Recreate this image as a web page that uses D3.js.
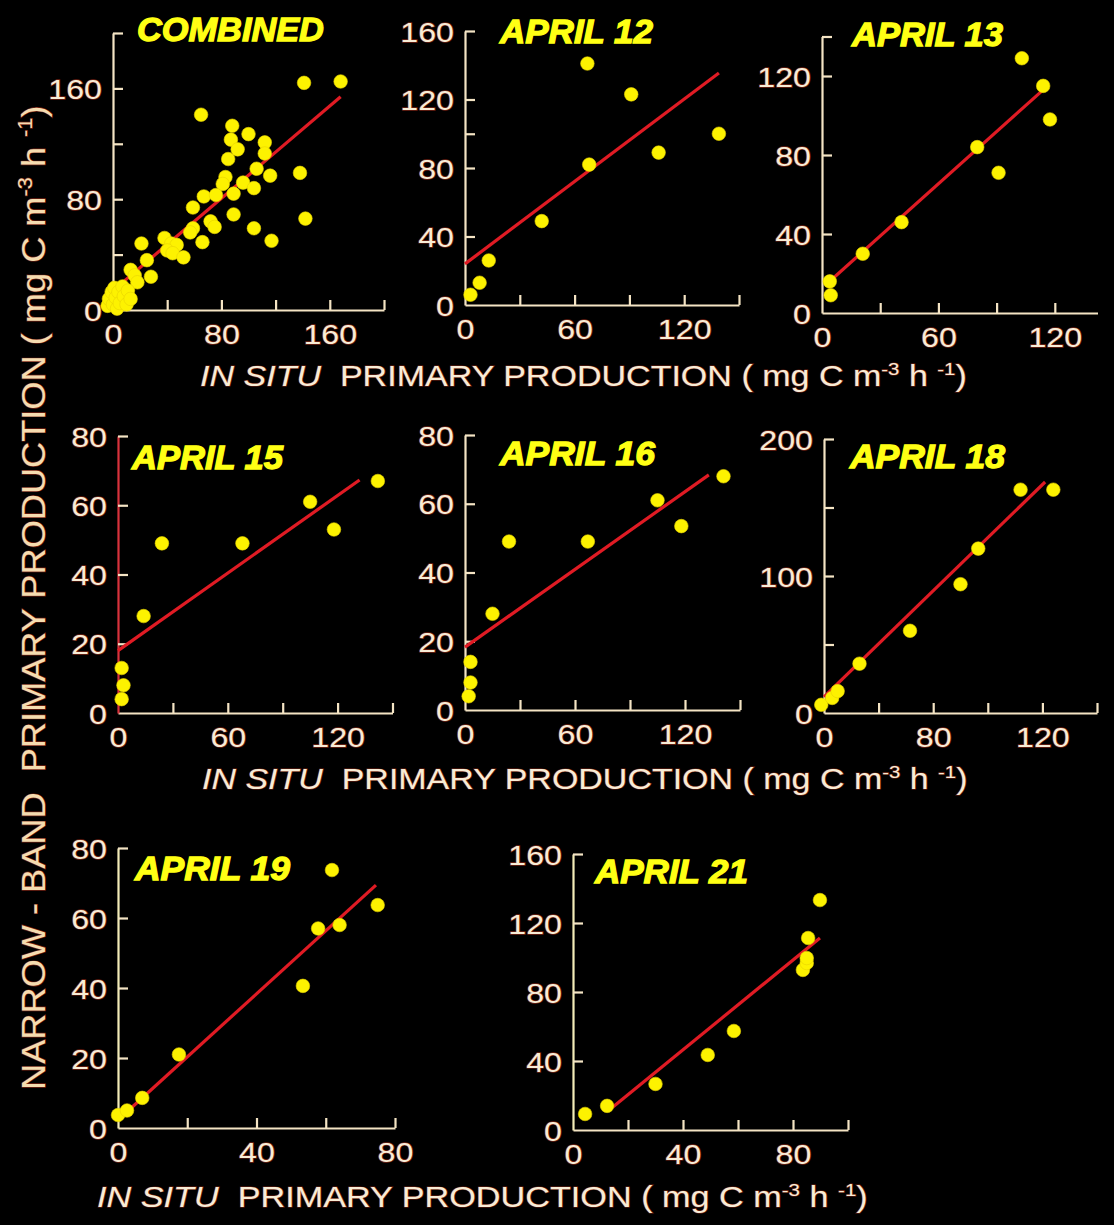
<!DOCTYPE html>
<html><head><meta charset="utf-8">
<script src="https://cdn.jsdelivr.net/npm/d3@7"></script>
<style>
html,body{margin:0;padding:0;background:#000;}
svg{display:block;}
text{white-space:pre;}
</style></head><body>
<svg id="chart" width="1114" height="1225"></svg>
<script>
// ---------------- DATA ----------------
const panelTitles = ["COMBINED", "APRIL 12", "APRIL 13", "APRIL 15", "APRIL 16", "APRIL 18", "APRIL 19", "APRIL 21"];

// COMBINED
const combinedX = [141,168,65,88,100,87,92,112,112,85,106,116,138,83,81,96,104,67,76,89,59,89,142,72,75,104,59,57,66,117,21,38,43,47,40,44,52,25,28,13,16,18,-4,-3,-1,0,1,2,3,4,5,7,8,10,11,13];
const combinedY = [164,165,141,133,127,123,116,121,113,109,102,97,99,96,91,92,88,82,83,84,74,69,66,64,60,59,59,56,49,50,48,52,48,47,43,41,38,36,24,29,25,20,3,8,13,4,16,9,1,13,5,17,10,4,14,8];
const combinedFitX = [0, 168];
const combinedFitY = [14, 154];

// APRIL 12
const apr12X = [3, 8, 13, 42, 67, 68, 91, 106, 139];
const apr12Y = [6, 13, 26, 49, 141, 82, 123, 89, 100];
const apr12FitX = [0, 139];
const apr12FitY = [24, 135.5];

// APRIL 13
const apr13X = [4, 4.5, 21, 41, 80, 91, 103, 114, 117.5];
const apr13Y = [16, 9, 30, 46, 84, 71, 129, 115, 98];
const apr13FitX = [3, 114];
const apr13FitY = [15.2, 113];

// APRIL 15
const apr15X = [2, 3, 2, 14, 24, 68, 105, 118, 142];
const apr15Y = [13, 8, 4, 28, 49, 49, 61, 53, 67];
const apr15FitX = [0, 132];
const apr15FitY = [18, 67.3];

// APRIL 16
const apr16X = [3, 3, 2, 15, 24, 67, 105, 118, 141];
const apr16Y = [14, 8, 4, 28, 49, 49, 61, 53.5, 68];
const apr16FitX = [0, 133];
const apr16FitY = [18.3, 68.4];

// APRIL 18
const apr18X = [-2, 6, 10, 26, 63, 100, 113, 144, 168];
const apr18Y = [6, 11, 16, 36, 60, 94, 120, 163, 163];
const apr18FitX = [0, 162];
const apr18FitY = [11.7, 168.6];

// APRIL 19
const apr19X = [0, 2.6, 7, 17.6, 53.4, 57.8, 61.8, 64, 75];
const apr19Y = [3.7, 5, 8.6, 21, 40.6, 57, 73.7, 58, 63.7];
const apr19FitX = [0, 74.5];
const apr19FitY = [2.3, 69.4];

// APRIL 21
const apr21X = [4.4, 12.4, 30, 49, 58.5, 83.6, 85, 85, 85.5, 89.8];
const apr21Y = [9.3, 14, 26.7, 43.5, 57.4, 92.8, 96.8, 99.7, 111.3, 133.3];
const apr21FitX = [14.5, 89.8];
const apr21FitY = [13.3, 111.3];

// ---------------- AXES: domains, tick marks, tick labels ----------------
const xDomains = [[0,200],[0,150],[0,142],[0,150],[0,150],[0,200],[0,80],[0,100]];
const yDomains = [[0,200],[0,160],[0,140],[0,80],[0,80],[0,200],[0,80],[0,160]];
const xTickMarks = [[40,80,120,160,200],[30,60,90,120,150],[30,60,90,120],[30,60,90,120,150],[30,60,90,120,150],[40,80,120,160,200],[20,40,60,80],[20,40,60,80,100]];
const yTickMarks = [[40,80,120,160,200],[40,80,100,120,160],[40,80,120,140],[20,40,60,80],[20,40,60,80],[50,100,150,200],[20,40,60,80],[40,80,120,160]];
const xTickValues = [[0,80,160],[0,60,120],[0,60,120],[0,60,120],[0,60,120],[0,80,160],[0,40,80],[0,40,80]];
const xTickTexts  = [["0","80","160"],["0","60","120"],["0","60","120"],["0","60","120"],["0","60","120"],["0","80","120"],["0","40","80"],["0","40","80"]];
const yTickValues = [[0,80,160],[0,40,80,120,160],[0,40,80,120],[0,20,40,60,80],[0,20,40,60,80],[0,100,200],[0,20,40,60,80],[0,40,80,120,160]];

const seriesX = [combinedX, apr12X, apr13X, apr15X, apr16X, apr18X, apr19X, apr21X];
const seriesY = [combinedY, apr12Y, apr13Y, apr15Y, apr16Y, apr18Y, apr19Y, apr21Y];
const fitX = [combinedFitX, apr12FitX, apr13FitX, apr15FitX, apr16FitX, apr18FitX, apr19FitX, apr21FitX];
const fitY = [combinedFitY, apr12FitY, apr13FitY, apr15FitY, apr16FitY, apr18FitY, apr19FitY, apr21FitY];

// ---------------- LAYOUT (pixels) ----------------
const layout = [
  {x0:113, x1:384,   y0:310,  y1:33,   tx:137, ty:41,  tw:187},
  {x0:465, x1:739,   y0:305,  y1:31,   tx:500, ty:43,  tw:153},
  {x0:822, x1:1097.5,y0:313,  y1:36.5, tx:852, ty:46,  tw:151},
  {x0:118, x1:392.5, y0:713,  y1:436,  tx:132, ty:469, tw:151, yAxisColor:"#d9323c"},
  {x0:465, x1:740,   y0:710,  y1:435,  tx:500, ty:465, tw:155},
  {x0:824, x1:1097,  y0:713,  y1:439,  tx:850, ty:468, tw:155},
  {x0:118, x1:395,   y0:1128, y1:848,  tx:135, ty:880, tw:155, yAxisColor:"#f3ecb8"},
  {x0:573, x1:848,   y0:1130, y1:854,  tx:595, ty:883, tw:153, yAxisColor:"#f3ecb8"}
];
const xTitleRows = [
  {x:200, y:386,  w:767},
  {x:202, y:789,  w:766},
  {x:97,  y:1207, w:771}
];

// ---------------- STYLE ----------------
const FONT = "'Liberation Sans', Arial, Helvetica, sans-serif";
const AXIS_COLOR = "#f4e4c4";
const LABEL_COLOR = "#f8ecd6";
const FRINGE = "#6e2014";
const DOT = "#fdf200";
const FIT = "#e01b24";
const TITLE = "#ffff14";
const TICK_FS = 28, TICK_SX = 1.15;

const svg = d3.select("#chart");
svg.append("rect").attr("width", 1114).attr("height", 1225).attr("fill", "#000");

panelTitles.forEach((title, i) => {
  const L = layout[i];
  const x = d3.scaleLinear().domain(xDomains[i]).range([L.x0, L.x1]);
  const y = d3.scaleLinear().domain(yDomains[i]).range([L.y0, L.y1]);
  const g = svg.append("g");

  // tick marks + axis lines
  const xa = g.append("g").attr("transform", `translate(0,${L.y0})`)
    .call(d3.axisBottom(x).tickValues(xTickMarks[i]).tickSizeInner(-10).tickSizeOuter(0).tickFormat(""));
  const ya = g.append("g").attr("transform", `translate(${L.x0},0)`)
    .call(d3.axisLeft(y).tickValues(yTickMarks[i]).tickSizeInner(-10).tickSizeOuter(0).tickFormat(""));
  xa.selectAll("path,line").attr("stroke", AXIS_COLOR).attr("stroke-width", 2.2);
  ya.selectAll("path,line").attr("stroke", L.yAxisColor || AXIS_COLOR).attr("stroke-width", 2.2);
  ya.selectAll(".tick line").attr("stroke", AXIS_COLOR);

  // tick labels
  const xl = g.append("g").attr("transform", `translate(0,${L.y0})`)
    .call(d3.axisBottom(x).tickValues(xTickValues[i]).tickSize(0).tickFormat((d, j) => xTickTexts[i][j]));
  xl.select(".domain").remove();
  xl.selectAll("text")
    .attr("y", null).attr("dy", null)
    .attr("transform", `translate(0,34) scale(${TICK_SX},1)`)
    .attr("font-size", TICK_FS).attr("font-family", FONT)
    .attr("fill", LABEL_COLOR).attr("stroke", FRINGE).attr("stroke-width", 1.4)
    .attr("paint-order", "stroke").attr("text-anchor", "middle");

  const yl = g.append("g").attr("transform", `translate(${L.x0},0)`)
    .call(d3.axisLeft(y).tickValues(yTickValues[i]).tickSize(0));
  yl.select(".domain").remove();
  yl.selectAll("text")
    .attr("x", null).attr("dy", "0.36em")
    .attr("transform", `translate(-11,0) scale(${TICK_SX},1)`)
    .attr("font-size", TICK_FS).attr("font-family", FONT)
    .attr("fill", LABEL_COLOR).attr("stroke", FRINGE).attr("stroke-width", 1.4)
    .attr("paint-order", "stroke").attr("text-anchor", "end");

  // regression line
  const line = d3.line().x(d => x(d[0])).y(d => y(d[1]));
  g.append("path").datum(d3.zip(fitX[i], fitY[i]))
    .attr("d", line).attr("fill", "none").attr("stroke", FIT).attr("stroke-width", 3.2);

  // points
  g.append("g").selectAll("circle").data(d3.zip(seriesX[i], seriesY[i])).join("circle")
    .attr("cx", d => x(d[0])).attr("cy", d => y(d[1])).attr("r", 6.8)
    .attr("fill", DOT).attr("stroke", "#e8d400").attr("stroke-width", 0.6);

  // title
  const t = g.append("text").text(title)
    .attr("font-family", FONT).attr("font-size", 34).attr("font-weight", "bold").attr("font-style", "italic")
    .attr("fill", TITLE).attr("stroke", TITLE).attr("stroke-width", 1.3);
  const tw = t.node().getComputedTextLength();
  t.attr("transform", `translate(${L.tx},${L.ty}) scale(${L.tw / tw},1)`);
});

// axis titles
function unitParts(sel, fs) {
  sel.append("tspan").text(" ( mg C m");
  sel.append("tspan").text("-3").attr("font-size", fs * 0.6).attr("dy", -fs * 0.38);
  sel.append("tspan").text(" h ").attr("dy", fs * 0.38);
  sel.append("tspan").text("-1").attr("font-size", fs * 0.6).attr("dy", -fs * 0.38);
  sel.append("tspan").text(")").attr("dy", fs * 0.38);
}

xTitleRows.forEach(r => {
  const fs = 29;
  const t = svg.append("text").attr("font-family", FONT).attr("font-size", fs)
    .attr("fill", LABEL_COLOR).attr("stroke", FRINGE).attr("stroke-width", 1.2).attr("paint-order", "stroke");
  t.append("tspan").text("IN SITU").attr("font-style", "italic");
  t.append("tspan").text("  PRIMARY PRODUCTION");
  unitParts(t, fs);
  const w = t.node().getComputedTextLength();
  t.attr("transform", `translate(${r.x},${r.y}) scale(${r.w / w},1)`);
});

{
  const fs = 33;
  const t = svg.append("text").attr("font-family", FONT).attr("font-size", fs)
    .attr("fill", "#f5dcb0").attr("stroke", FRINGE).attr("stroke-width", 1.2).attr("paint-order", "stroke");
  t.append("tspan").text("NARROW - BAND  PRIMARY PRODUCTION");
  unitParts(t, fs);
  const w = t.node().getComputedTextLength();
  t.attr("transform", `translate(45,1090) rotate(-90) scale(${985 / w},1)`);
}
</script>
</body></html>
